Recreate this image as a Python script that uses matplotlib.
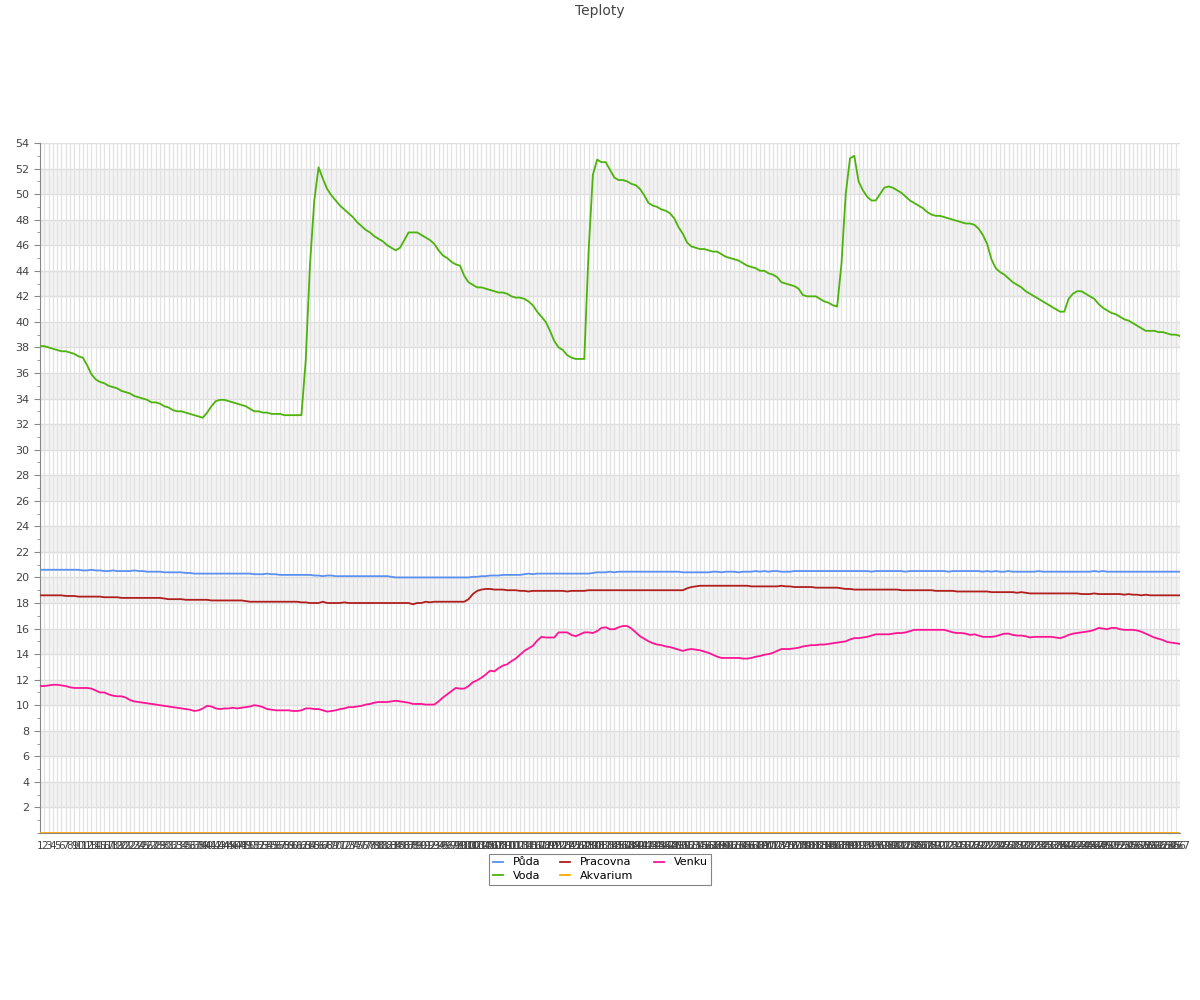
import matplotlib
matplotlib.use("Agg")
import matplotlib.pyplot as plt
from matplotlib.ticker import MultipleLocator

# x categories (sample numbers)
labels = [str(n) for n in range(1, 268)]

puda = [
    20.6, 20.6, 20.6, 20.6, 20.6, 20.6, 20.6, 20.6, 20.6, 20.6,
    20.55, 20.55, 20.6, 20.55, 20.55, 20.5, 20.5, 20.55, 20.5, 20.5,
    20.5, 20.5, 20.55, 20.5, 20.5, 20.45, 20.45, 20.45, 20.45, 20.4,
    20.4, 20.4, 20.4, 20.4, 20.35, 20.35, 20.3, 20.3, 20.3, 20.3,
    20.3, 20.3, 20.3, 20.3, 20.3, 20.3, 20.3, 20.3, 20.3, 20.3,
    20.25, 20.25, 20.25, 20.3, 20.25, 20.25, 20.2, 20.2, 20.2, 20.2,
    20.2, 20.2, 20.2, 20.2, 20.15, 20.15, 20.1, 20.15, 20.15, 20.1,
    20.1, 20.1, 20.1, 20.1, 20.1, 20.1, 20.1, 20.1, 20.1, 20.1,
    20.1, 20.1, 20.05, 20.0, 20.0, 20.0, 20.0, 20.0, 20.0, 20.0,
    20.0, 20.0, 20.0, 20.0, 20.0, 20.0, 20.0, 20.0, 20.0, 20.0,
    20.0, 20.05, 20.05, 20.1, 20.1, 20.15, 20.15, 20.15, 20.2, 20.2,
    20.2, 20.2, 20.2, 20.25, 20.3, 20.25, 20.3, 20.3, 20.3, 20.3,
    20.3, 20.3, 20.3, 20.3, 20.3, 20.3, 20.3, 20.3, 20.3, 20.35,
    20.4, 20.4, 20.4, 20.45, 20.4, 20.45, 20.45, 20.45, 20.45, 20.45,
    20.45, 20.45, 20.45, 20.45, 20.45, 20.45, 20.45, 20.45, 20.45, 20.45,
    20.4, 20.4, 20.4, 20.4, 20.4, 20.4, 20.4, 20.45, 20.45, 20.4,
    20.45, 20.45, 20.45, 20.4, 20.45, 20.45, 20.45, 20.5, 20.45, 20.5,
    20.45, 20.5, 20.5, 20.45, 20.45, 20.45, 20.5, 20.5, 20.5, 20.5,
    20.5, 20.5, 20.5, 20.5, 20.5, 20.5, 20.5, 20.5, 20.5, 20.5,
    20.5, 20.5, 20.5, 20.5, 20.45, 20.5, 20.5, 20.5, 20.5, 20.5,
    20.5, 20.5, 20.45, 20.5, 20.5, 20.5, 20.5, 20.5, 20.5, 20.5,
    20.5, 20.5, 20.45, 20.5, 20.5, 20.5, 20.5, 20.5, 20.5, 20.5,
    20.45, 20.5, 20.45, 20.5, 20.45, 20.45, 20.5, 20.45, 20.45, 20.45,
    20.45, 20.45, 20.45, 20.5, 20.45, 20.45, 20.45, 20.45, 20.45, 20.45,
    20.45, 20.45, 20.45, 20.45, 20.45, 20.45, 20.5, 20.45, 20.5, 20.45,
    20.45, 20.45, 20.45, 20.45, 20.45, 20.45, 20.45, 20.45, 20.45, 20.45,
    20.45, 20.45, 20.45, 20.45, 20.45, 20.45, 20.45,
]

voda = [
    38.1, 38.1, 38.0, 37.9, 37.8, 37.7, 37.7, 37.6, 37.5, 37.3,
    37.2, 36.6, 35.9, 35.5, 35.3, 35.2, 35.0, 34.9, 34.8, 34.6,
    34.5, 34.4, 34.2, 34.1, 34.0, 33.9, 33.7, 33.7, 33.6, 33.4,
    33.3, 33.1, 33.0, 33.0, 32.9, 32.8, 32.7, 32.6, 32.5, 32.9,
    33.4, 33.8, 33.9, 33.9, 33.8, 33.7, 33.6, 33.5, 33.4, 33.2,
    33.0, 33.0, 32.9, 32.9, 32.8, 32.8, 32.8, 32.7, 32.7, 32.7,
    32.7, 32.7, 37.0, 44.5, 49.5, 52.1, 51.2, 50.4, 49.9, 49.5,
    49.1, 48.8, 48.5, 48.2, 47.8, 47.5, 47.2, 47.0, 46.7, 46.5,
    46.3, 46.0, 45.8, 45.6, 45.8, 46.4, 47.0, 47.0, 47.0, 46.8,
    46.6, 46.4, 46.1, 45.6, 45.2, 45.0, 44.7, 44.5, 44.4, 43.6,
    43.1, 42.9, 42.7, 42.7, 42.6, 42.5, 42.4, 42.3, 42.3, 42.2,
    42.0, 41.9, 41.9, 41.8, 41.6, 41.3, 40.8, 40.4, 40.0, 39.3,
    38.5, 38.0, 37.8, 37.4, 37.2, 37.1, 37.1, 37.1, 45.5, 51.5,
    52.7, 52.5, 52.5, 51.9, 51.3, 51.1, 51.1, 51.0, 50.8, 50.7,
    50.4, 49.9, 49.3, 49.1, 49.0, 48.8, 48.7, 48.5, 48.1, 47.4,
    46.9, 46.2, 45.9, 45.8, 45.7, 45.7, 45.6, 45.5, 45.5, 45.3,
    45.1, 45.0, 44.9, 44.8, 44.6, 44.4, 44.3, 44.2, 44.0, 44.0,
    43.8, 43.7, 43.5, 43.1, 43.0, 42.9, 42.8, 42.6, 42.1, 42.0,
    42.0, 42.0, 41.8, 41.6, 41.5, 41.3, 41.2, 44.5, 50.0, 52.8,
    53.0, 51.0, 50.3, 49.8, 49.5, 49.5, 50.0, 50.5, 50.6, 50.5,
    50.3, 50.1, 49.8, 49.5, 49.3, 49.1, 48.9, 48.6, 48.4, 48.3,
    48.3, 48.2, 48.1, 48.0, 47.9, 47.8, 47.7, 47.7, 47.6, 47.3,
    46.8, 46.1, 44.9, 44.2, 43.9, 43.7, 43.4, 43.1, 42.9, 42.7,
    42.4, 42.2, 42.0, 41.8, 41.6, 41.4, 41.2, 41.0, 40.8, 40.8,
    41.8, 42.2, 42.4, 42.4, 42.2, 42.0, 41.8, 41.4, 41.1, 40.9,
    40.7, 40.6, 40.4, 40.2, 40.1, 39.9, 39.7, 39.5, 39.3, 39.3,
    39.3, 39.2, 39.2, 39.1, 39.0, 39.0, 38.9,
]

pracovna = [
    18.6, 18.6, 18.6, 18.6, 18.6, 18.6, 18.55, 18.55, 18.55, 18.5,
    18.5, 18.5, 18.5, 18.5, 18.5, 18.45, 18.45, 18.45, 18.45, 18.4,
    18.4, 18.4, 18.4, 18.4, 18.4, 18.4, 18.4, 18.4, 18.4, 18.35,
    18.3, 18.3, 18.3, 18.3, 18.25, 18.25, 18.25, 18.25, 18.25, 18.25,
    18.2, 18.2, 18.2, 18.2, 18.2, 18.2, 18.2, 18.2, 18.15, 18.1,
    18.1, 18.1, 18.1, 18.1, 18.1, 18.1, 18.1, 18.1, 18.1, 18.1,
    18.1, 18.05, 18.05, 18.0, 18.0, 18.0, 18.1, 18.0, 18.0, 18.0,
    18.0, 18.05, 18.0, 18.0, 18.0, 18.0, 18.0, 18.0, 18.0, 18.0,
    18.0, 18.0, 18.0, 18.0, 18.0, 18.0, 18.0, 17.9, 18.0, 18.0,
    18.1, 18.05, 18.1, 18.1, 18.1, 18.1, 18.1, 18.1, 18.1, 18.1,
    18.3, 18.7, 18.95, 19.05, 19.1, 19.1, 19.05, 19.05, 19.05, 19.0,
    19.0, 19.0, 18.95, 18.95, 18.9, 18.95, 18.95, 18.95, 18.95, 18.95,
    18.95, 18.95, 18.95, 18.9, 18.95, 18.95, 18.95, 18.95, 19.0, 19.0,
    19.0, 19.0, 19.0, 19.0, 19.0, 19.0, 19.0, 19.0, 19.0, 19.0,
    19.0, 19.0, 19.0, 19.0, 19.0, 19.0, 19.0, 19.0, 19.0, 19.0,
    19.0, 19.15, 19.25, 19.3, 19.35, 19.35, 19.35, 19.35, 19.35, 19.35,
    19.35, 19.35, 19.35, 19.35, 19.35, 19.35, 19.3, 19.3, 19.3, 19.3,
    19.3, 19.3, 19.3, 19.35, 19.3, 19.3, 19.25, 19.25, 19.25, 19.25,
    19.25, 19.2, 19.2, 19.2, 19.2, 19.2, 19.2, 19.15, 19.1, 19.1,
    19.05, 19.05, 19.05, 19.05, 19.05, 19.05, 19.05, 19.05, 19.05, 19.05,
    19.05, 19.0, 19.0, 19.0, 19.0, 19.0, 19.0, 19.0, 19.0, 18.95,
    18.95, 18.95, 18.95, 18.95, 18.9, 18.9, 18.9, 18.9, 18.9, 18.9,
    18.9, 18.9, 18.85, 18.85, 18.85, 18.85, 18.85, 18.85, 18.8, 18.85,
    18.8, 18.75, 18.75, 18.75, 18.75, 18.75, 18.75, 18.75, 18.75, 18.75,
    18.75, 18.75, 18.75, 18.7, 18.7, 18.7, 18.75, 18.7, 18.7, 18.7,
    18.7, 18.7, 18.7, 18.65, 18.7, 18.65, 18.65, 18.6, 18.65, 18.6,
    18.6, 18.6, 18.6, 18.6, 18.6, 18.6, 18.6,
]

akvarium = [
    0, 0, 0, 0, 0, 0, 0, 0, 0, 0, 0, 0, 0, 0, 0, 0, 0, 0, 0, 0, 0, 0, 0, 0, 0, 0, 0, 0, 0, 0,
    0, 0, 0, 0, 0, 0, 0, 0, 0, 0, 0, 0, 0, 0, 0, 0, 0, 0, 0, 0, 0, 0, 0, 0, 0, 0, 0, 0, 0, 0,
    0, 0, 0, 0, 0, 0, 0, 0, 0, 0, 0, 0, 0, 0, 0, 0, 0, 0, 0, 0, 0, 0, 0, 0, 0, 0, 0, 0, 0, 0,
    0, 0, 0, 0, 0, 0, 0, 0, 0, 0, 0, 0, 0, 0, 0, 0, 0, 0, 0, 0, 0, 0, 0, 0, 0, 0, 0, 0, 0, 0,
    0, 0, 0, 0, 0, 0, 0, 0, 0, 0, 0, 0, 0, 0, 0, 0, 0, 0, 0, 0, 0, 0, 0, 0, 0, 0, 0, 0, 0, 0,
    0, 0, 0, 0, 0, 0, 0, 0, 0, 0, 0, 0, 0, 0, 0, 0, 0, 0, 0, 0, 0, 0, 0, 0, 0, 0, 0, 0, 0, 0,
    0, 0, 0, 0, 0, 0, 0, 0, 0, 0, 0, 0, 0, 0, 0, 0, 0, 0, 0, 0, 0, 0, 0, 0, 0, 0, 0, 0, 0, 0,
    0, 0, 0, 0, 0, 0, 0, 0, 0, 0, 0, 0, 0, 0, 0, 0, 0, 0, 0, 0, 0, 0, 0, 0, 0, 0, 0, 0, 0, 0,
    0, 0, 0, 0, 0, 0, 0, 0, 0, 0, 0, 0, 0, 0, 0, 0, 0, 0, 0, 0, 0, 0, 0, 0, 0, 0, 0,
]

venku = [
    11.5, 11.5, 11.55, 11.6, 11.6, 11.55, 11.5, 11.4, 11.35, 11.35,
    11.35, 11.35, 11.3, 11.15, 11.0, 11.0, 10.85, 10.75, 10.7, 10.7,
    10.6, 10.4, 10.3, 10.25, 10.2, 10.15, 10.1, 10.05, 10.0, 9.95,
    9.9, 9.85, 9.8, 9.75, 9.7, 9.65, 9.55, 9.6, 9.75, 9.95,
    9.9, 9.75, 9.7, 9.75, 9.75, 9.8, 9.75, 9.8, 9.85, 9.9,
    10.0, 9.95, 9.85, 9.7, 9.65, 9.6, 9.6, 9.6, 9.6, 9.55,
    9.55, 9.6, 9.75, 9.75, 9.7, 9.7, 9.6, 9.5, 9.55, 9.6,
    9.7, 9.75, 9.85, 9.85, 9.9, 9.95, 10.05, 10.1, 10.2, 10.25,
    10.25, 10.25, 10.3, 10.35, 10.3, 10.25, 10.2, 10.1, 10.1, 10.1,
    10.05, 10.05, 10.05, 10.3, 10.6, 10.85, 11.1, 11.35, 11.3, 11.3,
    11.5, 11.8, 11.95, 12.15, 12.4, 12.7, 12.65, 12.9, 13.1, 13.2,
    13.45, 13.65, 13.95, 14.25, 14.45, 14.65, 15.05, 15.35, 15.3, 15.3,
    15.3, 15.7, 15.7, 15.7, 15.5, 15.4, 15.55, 15.7, 15.7, 15.65,
    15.8, 16.05, 16.1, 15.95, 15.95, 16.1, 16.2, 16.2, 16.0, 15.7,
    15.4, 15.2, 15.0, 14.85, 14.75, 14.7, 14.6, 14.55, 14.45, 14.35,
    14.25, 14.35, 14.4, 14.35, 14.3, 14.2, 14.1, 13.95, 13.8, 13.7,
    13.7, 13.7, 13.7, 13.7, 13.65, 13.65, 13.7, 13.8, 13.85, 13.95,
    14.0, 14.1, 14.25, 14.4, 14.4, 14.4, 14.45, 14.5, 14.6, 14.65,
    14.7, 14.7, 14.75, 14.75, 14.8, 14.85, 14.9, 14.95, 15.0, 15.15,
    15.25, 15.25, 15.3, 15.35, 15.45, 15.55, 15.55, 15.55, 15.55, 15.6,
    15.65, 15.65, 15.7, 15.8, 15.9, 15.9, 15.9, 15.9, 15.9, 15.9,
    15.9, 15.9, 15.8, 15.7, 15.65, 15.65, 15.6, 15.5, 15.55, 15.45,
    15.35, 15.35, 15.35, 15.4, 15.5, 15.6, 15.6, 15.5, 15.45, 15.45,
    15.4, 15.3, 15.35, 15.35, 15.35, 15.35, 15.35, 15.3, 15.25, 15.35,
    15.5, 15.6, 15.65, 15.7, 15.75, 15.8, 15.9, 16.05, 16.0, 15.95,
    16.05, 16.05, 15.95, 15.9, 15.9, 15.9, 15.85, 15.75, 15.6, 15.45,
    15.3, 15.2, 15.1, 14.95, 14.9, 14.85, 14.8,
]

fig = plt.figure(figsize=(12, 10), dpi=100)
ax = fig.add_axes([40 / 1200, 0.167, 1140 / 1200, 0.69])

xs = list(range(len(labels)))

# striped background bands and grid
for lo in range(2, 54, 4):
    ax.axhspan(lo, lo + 2, color="#f3f3f3", zorder=0, lw=0)
for y in range(2, 55, 2):
    ax.axhline(y, color="#dedede", lw=1, zorder=0.5)
for x in xs:
    ax.axvline(x, color="#e2e2e2", lw=0.9, zorder=0.5)

ax.plot(xs, puda, color="#5b8ff0", lw=1.3, label="Půda", zorder=3)
ax.plot(xs, voda, color="#4cb30c", lw=1.3, label="Voda", zorder=3)
ax.plot(xs, pracovna, color="#b01e1e", lw=1.3, label="Pracovna", zorder=3)
ax.plot(xs, akvarium, color="#ffa500", lw=1.3, label="Akvarium", zorder=3)
ax.plot(xs, venku, color="#ff1493", lw=1.3, label="Venku", zorder=3)

ax.set_xlim(0, len(labels) - 1)
ax.set_ylim(0, 54)
ax.set_yticks(range(2, 55, 2))
ax.yaxis.set_minor_locator(MultipleLocator(1))
ax.set_xticks(xs, labels)
ax.tick_params(axis="x", length=0, labelsize=7.5, labelcolor="#444444", pad=6)
ax.tick_params(axis="y", which="major", length=4, color="#888888", labelsize=8, labelcolor="#444444")
ax.tick_params(axis="y", which="minor", length=2, color="#888888")

for side in ("top", "right"):
    ax.spines[side].set_visible(False)
for side in ("left", "bottom"):
    ax.spines[side].set_color("#888888")

fig.text(0.5, 0.989, "Teploty", ha="center", va="center", fontsize=10, color="#444444")

leg = fig.legend(loc="upper center", bbox_to_anchor=(0.5, 0.152), ncol=3, fontsize=8,
                 frameon=True, fancybox=False, edgecolor="#666666", handlelength=0.9,
                 columnspacing=1.8, handletextpad=0.9, borderpad=0.35, labelspacing=0.3)
leg.get_frame().set_linewidth(0.8)

fig.savefig("out.png", dpi=100)
